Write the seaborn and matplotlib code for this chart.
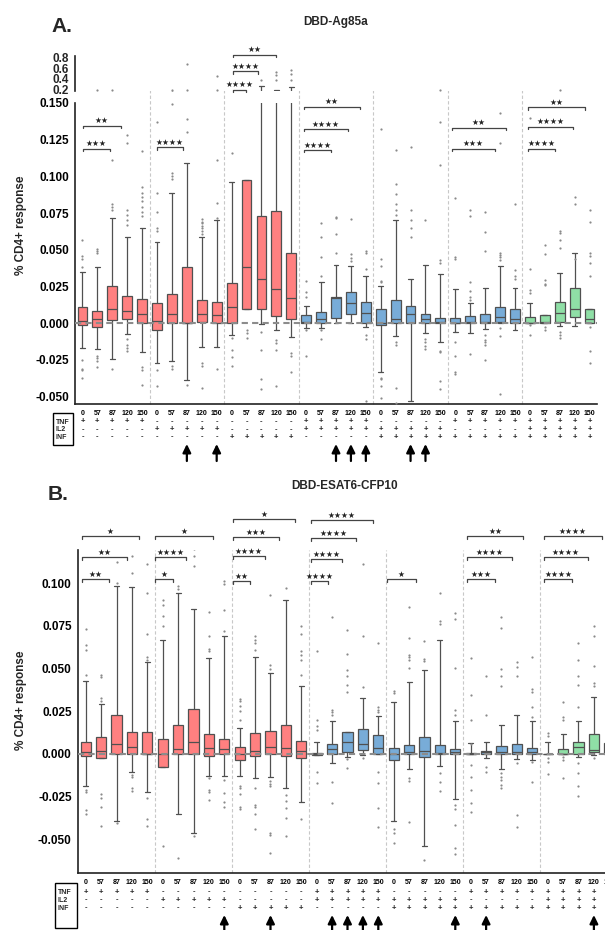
import numpy as np
import pandas as pd
import matplotlib
matplotlib.use("Agg")
import matplotlib.pyplot as plt
import seaborn as sns
from matplotlib.transforms import blended_transform_factory
from matplotlib.patches import Rectangle

# ---------------- data ----------------
doses = ["0", "57", "87", "120", "150"]
tnf_flag = [1, 0, 0, 1, 0, 1, 1]
il2_flag = [0, 1, 0, 1, 1, 0, 1]
inf_flag = [0, 0, 1, 0, 1, 1, 1]
group_colors = ["#FF8080", "#FF8080", "#FF8080", "#78ACD8", "#78ACD8", "#78ACD8", "#8FDFA6"]

# Panel A (DBD-Ag85a): whisker low, Q1, median, Q3, whisker high
a_wlo = [-0.017, -0.0175, -0.0245, -0.0075, -0.0198,
         -0.027, -0.026, -0.0386, -0.016, -0.0164,
         -0.008, 0.010, -0.0007, -0.0045, -0.0095,
         -0.003, -0.0034, 0.0, 0.0005, -0.0023,
         -0.033, -0.009, -0.053, -0.0068, -0.013,
         -0.0057, -0.0064, -0.004, 0.0, -0.0045,
         0.0, 0.0, -0.0018, -0.0016, 0.0]
a_q1 = [-0.0011, -0.0023, 0.002, 0.0027, 0.0,
        -0.0045, 0.0, 0.0, 0.0007, 0.0,
        0.0005, 0.010, 0.010, 0.005, 0.0027,
        0.0, 0.0, 0.0039, 0.006, 0.0005,
        -0.0011, 0.0, 0.0, 0.0005, 0.0,
        0.0, 0.0, 0.0, 0.0007, 0.0,
        0.0, 0.0, 0.0011, 0.004, 0.0]
a_med = [0.0014, 0.0027, 0.0095, 0.008, 0.0064,
         0.0016, 0.0064, 0.0, 0.006, 0.0057,
         0.0114, 0.038, 0.030, 0.0234, 0.017,
         0.0007, 0.0027, 0.0175, 0.0136, 0.0068,
         0.0, 0.0027, 0.0064, 0.003, 0.0007,
         0.0, 0.0007, 0.0007, 0.004, 0.003,
         0.0, 0.0007, 0.0068, 0.0095, 0.003]
a_q3 = [0.0109, 0.0084, 0.0257, 0.0184, 0.0168,
        0.0141, 0.0198, 0.0384, 0.0157, 0.0145,
        0.0273, 0.0977, 0.073, 0.0766, 0.0475,
        0.0057, 0.0075, 0.018, 0.021, 0.0143,
        0.0095, 0.0157, 0.012, 0.0066, 0.0036,
        0.0036, 0.005, 0.0061, 0.011, 0.0095,
        0.0045, 0.0057, 0.0145, 0.024, 0.0095]
a_whi = [0.035, 0.038, 0.0718, 0.059, 0.065,
         0.055, 0.089, 0.109, 0.059, 0.070,
         0.096, 0.0977, 0.26, 0.20, 0.24,
         0.012, 0.028, 0.040, 0.039, 0.032,
         0.0257, 0.070, 0.030, 0.040, 0.0336,
         0.023, 0.0136, 0.024, 0.039, 0.024,
         0.0136, 0.0057, 0.0345, 0.048, 0.0095]
a_out = [
    [0.057, 0.0455, 0.044, 0.038, -0.025, -0.031, -0.032, -0.0375],
    [0.0505, 0.049, 0.048, -0.022, -0.024, -0.026, -0.0295, 0.2],
    [0.081, 0.079, 0.077, -0.031, 0.2, 0.111],
    [0.077, 0.074, 0.070, 0.067, -0.011, -0.015, -0.017, -0.019, 0.128, 0.123],
    [0.093, 0.089, 0.086, 0.083, 0.079, 0.076, 0.073, -0.030, -0.032, -0.042, 0.117],
    [0.089, 0.076, 0.065, 0.063, -0.032, -0.043, 0.137],
    [0.102, 0.100, 0.098, -0.029, -0.031, 0.2, 0.149],
    [-0.042, 0.67, 0.2, 0.139, 0.130],
    [0.071, 0.069, 0.068, 0.066, 0.065, 0.063, 0.061, -0.027, -0.029, -0.044],
    [0.082, 0.0716, -0.031, 0.46, 0.2, 0.111],
    [0.116, -0.010, -0.018, -0.023, -0.029],
    [-0.0045, -0.0064, -0.010],
    [-0.006, -0.018, -0.038, -0.045, 0.37],
    [-0.0115, -0.0135, -0.018, -0.043, 0.52, 0.47, 0.37],
    [-0.020, -0.022, -0.033, 0.57, 0.49, 0.37],
    [0.029, 0.0216, 0.018, -0.0045, -0.022],
    [0.032, 0.045, 0.059, 0.068, -0.0045, -0.011],
    [0.048, 0.061, 0.0715, 0.0725],
    [0.071, 0.047, 0.0445, 0.0425],
    [0.049, 0.048, 0.037, -0.008, -0.011, -0.053],
    [0.044, 0.039, 0.029, 0.028, -0.037, -0.038, -0.043, -0.051, 0.132],
    [0.095, 0.088, 0.081, 0.077, 0.074, -0.0125, -0.0148, -0.044, -0.054, 0.118],
    [0.077, 0.070, 0.065, 0.059, 0.120],
    [0.070, -0.011, -0.0125, -0.0155, -0.0175],
    [0.043, 0.041, -0.019, -0.0198, -0.039, -0.045, 0.2, 0.137, 0.108],
    [0.085, 0.045, 0.044, -0.0125, -0.022, -0.033, -0.0345],
    [0.077, 0.073, 0.028, 0.022, 0.018, 0.016, -0.021],
    [0.076, 0.062, 0.049, -0.008, -0.0114, -0.013, -0.0148, -0.025],
    [0.048, 0.0465, 0.045, 0.043, -0.0034, -0.0086, -0.048, 0.143, 0.123],
    [0.081, 0.036, 0.032, 0.030],
    [0.037, 0.0227, 0.0205, -0.0011, -0.008, 0.140],
    [0.053, 0.047, 0.0295, 0.027, 0.0261, -0.0023, -0.0045],
    [0.063, 0.0615, 0.057, 0.051, -0.0057, -0.008, -0.010, 0.2],
    [0.086, 0.081, 0.044],
    [0.077, 0.069, 0.048, 0.046, 0.041, 0.032, -0.0023, -0.019, -0.027],
]

# Panel B (DBD-ESAT6-CFP10)
b_wlo = [-0.019, -0.0023, -0.0395, -0.0105, -0.022,
         -0.0076, -0.035, -0.046, -0.0127, -0.013,
         -0.013, -0.014, -0.0135, -0.020, -0.028,
         -0.0006, -0.0051, -0.0016, -0.0006, 0.0,
         -0.039, -0.009, -0.054, -0.007, -0.0266,
         0.0, -0.0025, -0.009, -0.003, -0.0035,
         0.0, 0.0, -0.0016, -0.0006, 0.0]
b_q1 = [-0.001, -0.0023, 0.0, 0.0, 0.0,
        -0.0076, 0.0, 0.0, -0.0014, 0.0,
        -0.0033, -0.0014, 0.0, -0.0014, -0.0023,
        -0.0006, 0.0, 0.0014, 0.0023, 0.0,
        -0.0035, 0.0, -0.0016, 0.0, 0.0,
        0.0, 0.0, 0.0, 0.0, 0.0,
        0.0, 0.0, 0.0, 0.0014, 0.0]
b_med = [0.001, 0.002, 0.0059, 0.0041, 0.0,
         0.0, 0.003, 0.0068, 0.0035, 0.003,
         0.0, 0.002, 0.0041, 0.0035, 0.002,
         0.0, 0.0027, 0.0068, 0.006, 0.0037,
         0.0, 0.001, 0.0016, 0.0008, 0.0014,
         0.0, 0.001, 0.001, 0.001, 0.0014,
         0.0, 0.0, 0.0039, 0.0025, 0.003]
b_q3 = [0.007, 0.0098, 0.0227, 0.0127, 0.0127,
        0.0088, 0.017, 0.0264, 0.0119, 0.0088,
        0.0041, 0.0123, 0.0133, 0.0172, 0.0076,
        0.0008, 0.0059, 0.0131, 0.0146, 0.0109,
        0.0037, 0.0053, 0.0102, 0.0053, 0.0027,
        0.0004, 0.0018, 0.0047, 0.0059, 0.0037,
        0.0, 0.0027, 0.0072, 0.0117, 0.0066]
b_whi = [0.0426, 0.029, 0.0986, 0.098, 0.054,
         0.0666, 0.094, 0.085, 0.056, 0.069,
         0.0152, 0.057, 0.0475, 0.090, 0.0395,
         0.0072, 0.0195, 0.0131, 0.0326, 0.0225,
         0.0307, 0.0424, 0.049, 0.067, 0.0195,
         0.0066, 0.0068, 0.017, 0.023, 0.0195,
         0.0072, 0.0117, 0.0195, 0.0336, 0.0254]
b_out = [
    [0.046, 0.061, 0.064, 0.073, -0.021, -0.022, -0.033, -0.035],
    [0.046, 0.045, 0.033, 0.031, -0.0233, -0.0258, -0.031, -0.042],
    [0.100, -0.0405, 0.1123],
    [0.106, -0.0125, -0.0135, -0.0199, -0.0219, 0.116],
    [0.094, 0.070, 0.057, 0.055, -0.026, -0.038, -0.042, 0.111],
    [0.090, 0.087, 0.081, 0.075, -0.054],
    [0.0986, 0.0967, -0.061],
    [-0.048, 0.120, 0.116, 0.110],
    [0.083, 0.069, 0.0615, 0.0605, -0.014, -0.0213, -0.0225, -0.027],
    [0.101, 0.0996, 0.084, 0.072, -0.015, -0.0229, -0.0283, -0.031],
    [0.032, 0.0309, 0.028, 0.025, 0.0197, -0.0186, -0.0199, -0.0232, -0.0312, -0.0322],
    [0.069, 0.067, 0.065, 0.061, -0.0199, -0.0297, -0.031, -0.035, -0.044],
    [0.052, 0.0498, 0.093, -0.016, -0.0176, -0.0189, -0.0463, -0.0473, -0.058],
    [0.097, -0.0238, -0.0277, -0.0316, -0.0375, -0.0482],
    [0.075, 0.070, 0.060, 0.058, 0.055, 0.046, -0.038],
    [0.020, 0.0164, 0.014, 0.060, -0.0104, -0.017],
    [0.0258, 0.0248, 0.0229, 0.080, -0.0162, -0.029],
    [0.0365, 0.0404, 0.0457, 0.049, 0.0586, 0.0727, -0.0031, -0.0084],
    [0.039, 0.0688, -0.0025, 0.111],
    [0.0277, 0.0258, 0.0248, 0.065, -0.0104, -0.017, -0.0314, -0.0426],
    [0.0367, 0.0357, -0.0441, -0.0465, -0.0523],
    [0.086, 0.068, 0.0578, 0.0565, 0.055, 0.0506, -0.0143, -0.0156, -0.0396],
    [0.066, 0.0555, 0.0547, -0.062],
    [0.0945, 0.0779, 0.076, -0.011, -0.0162, -0.0215],
    [0.0828, 0.0789, 0.0506, 0.0258, 0.0229, -0.0299, -0.0324, -0.0416, -0.055, -0.0586],
    [0.056, 0.0346, 0.0199, 0.0059, -0.0064, -0.0133, -0.021, -0.0285, -0.034],
    [0.0457, 0.0229, -0.0074, -0.0104],
    [0.080, 0.0736, 0.0498, 0.0457, 0.0395, -0.0113, -0.0133, -0.0152, -0.0182, -0.0201],
    [0.0539, 0.051, 0.0457, -0.0055, -0.0357, -0.043],
    [0.0566, 0.0383, 0.0365, 0.0277, 0.0219, -0.0045, -0.0162],
    [0.0121, 0.0107, -0.0025, -0.0045, -0.012],
    [0.0307, 0.0219, 0.0199, -0.0016, -0.0035, -0.0143],
    [0.065, 0.055, 0.0457, 0.0404, 0.0277, -0.0055, -0.0113, -0.019, -0.0246],
    [0.075, 0.0688, 0.0516, 0.0418, 0.0395, -0.0025],
    [0.061, -0.019, -0.0266],
]

# significance brackets: (from box, to box, height, label)
a_brackets_low = [(0.04, 1.84, 0.1188, "***"), (0.04, 2.58, 0.1344, "**"),
                  (4.99, 6.73, 0.120, "****"),
                  (14.84, 16.65, 0.118, "****"), (14.84, 17.8, 0.1323, "****"), (14.84, 18.6, 0.1473, "**"),
                  (24.75, 27.63, 0.1188, "***"), (24.75, 28.4, 0.133, "**"),
                  (29.9, 31.7, 0.119, "****"), (29.9, 32.86, 0.1337, "****"), (29.9, 33.7, 0.147, "**")]
a_brackets_top = [(10.08, 10.95, 0.20, "****"), (10.08, 11.76, 0.54, "****"), (10.08, 12.96, 0.856, "**")]
b_brackets = [(-0.24, 3.46, 0.1275, "*"), (-0.24, 2.68, 0.1152, "**"), (-0.24, 1.51, 0.1023, "**"),
              (4.5, 8.27, 0.1275, "*"), (4.5, 6.51, 0.1152, "****"), (4.5, 5.67, 0.1023, "*"),
              (9.56, 13.6, 0.1375, "*"), (9.56, 12.55, 0.127, "***"), (9.56, 11.64, 0.1158, "****"), (9.56, 10.7, 0.1012, "**"),
              (14.63, 18.65, 0.1369, "****"), (14.63, 17.55, 0.1263, "****"), (14.63, 16.64, 0.114, "****"), (14.63, 15.73, 0.1012, "****"),
              (19.56, 21.45, 0.1023, "*"),
              (24.76, 28.4, 0.1275, "**"), (24.76, 27.68, 0.1152, "****"), (24.76, 26.58, 0.1023, "***"),
              (29.76, 33.5, 0.1275, "****"), (29.76, 32.6, 0.1152, "****"), (29.76, 31.58, 0.1023, "****")]
a_arrows = [7, 9, 17, 18, 19, 22, 23]
b_arrows = [9, 12, 16, 17, 18, 19, 24, 26, 33]

# ---------------- style ----------------
sns.set_style("white")
plt.rcParams['font.family'] = ['Liberation Sans', 'DejaVu Sans']
plt.rcParams['font.weight'] = 'bold'

W, H = 605, 930
def fx(px):
    return px / W
def fy(py):
    return 1 - py / H

keys = [f"g{g}-{d}" for g in range(7) for d in doses]
palette = {k: group_colors[i // 5] for i, k in enumerate(keys)}


def make_frames(wlo, q1, med, q3, whi, outl):
    vals = np.column_stack([wlo, q1, med, q3, whi]).ravel()
    box_df = pd.DataFrame({"box": np.repeat(keys, 5), "value": vals})
    ob, ov = [], []
    for k, lst in zip(keys, outl):
        ob += [k] * len(lst)
        ov += list(lst)
    out_df = pd.DataFrame({"box": ob, "value": ov})
    return box_df, out_df


def draw_boxes(ax, box_df, out_df):
    sns.boxplot(data=box_df, x="box", y="value", hue="box", order=keys, hue_order=keys,
                palette=palette, legend=False, whis=(0, 100), showfliers=False,
                width=0.66, linecolor="#505050", linewidth=0.9, saturation=1, ax=ax)
    sns.stripplot(data=out_df, x="box", y="value", order=keys, jitter=False,
                  size=1.6, color="#8a8a8a", ax=ax, zorder=3)
    ax.set_xlim(-0.5, 34.5)
    ax.set_xlabel("")
    ax.set_ylabel("")


def bracket(ax, x0, x1, y, label):
    y0, y1 = ax.get_ylim()
    hpx = ax.get_position().height * H
    d = 2.5 / hpx * (y1 - y0)
    ax.plot([x0, x0, x1, x1], [y - d, y, y, y - d], color="#444444", lw=0.9, clip_on=False, zorder=5)
    ax.annotate(label.replace("*", "\u2605"), xy=((x0 + x1) / 2, y), xytext=(0, 1.8),
                textcoords="offset points", ha="center", va="baseline", fontsize=5.6,
                family=["DejaVu Sans"], annotation_clip=False, color="#222222")


def style_lower(ax, yticks, ylim):
    ax.set_ylim(*ylim)
    ax.set_yticks(yticks)
    ax.set_yticklabels([f"{v:.3f}" for v in yticks], fontsize=8.5, fontweight="bold")
    ax.set_xticks(range(35))
    ax.set_xticklabels(doses * 7, fontsize=5, fontweight="bold")
    ax.tick_params(axis="x", length=2.5, width=0.8, pad=1.5, colors="black")
    ax.tick_params(axis="y", length=3, width=1, pad=1.5, colors="black")
    for s in ["top", "right"]:
        ax.spines[s].set_visible(False)
    for s in ["left", "bottom"]:
        ax.spines[s].set_color("#222222")
        ax.spines[s].set_linewidth(1.2)
    ax.axhline(0, color="#8c8c8c", ls=(0, (3, 2)), lw=1.5, zorder=4)


def table(ax, y_tick_rows, box_rect):
    tr = blended_transform_factory(ax.transData, ax.figure.transFigure)
    flags = [tnf_flag, il2_flag, inf_flag]
    for i in range(35):
        g = i // 5
        for r in range(3):
            s = "+" if flags[r][g] else "-"
            ax.figure.text(i, fy(y_tick_rows[r]), s, transform=tr, ha="center", va="center",
                           fontsize=5.5, fontweight="bold")
    x0, y0, x1, y1 = box_rect
    ax.figure.add_artist(Rectangle((fx(x0), fy(y1)), fx(x1) - fx(x0), (y1 - y0) / H, fill=False,
                                   lw=1.0, ec="black", transform=ax.figure.transFigure))
    for r, lab in enumerate(["TNF", "IL2", "INF"]):
        ax.figure.text(fx(x0 + 3), fy(y_tick_rows[r]), lab, ha="left", va="center",
                       fontsize=5, fontweight="bold")


def arrows(ax, idx, y_head, y_tail):
    tr = blended_transform_factory(ax.transData, ax.figure.transFigure)
    for i in idx:
        ax.annotate("", xy=(i, fy(y_head)), xycoords=tr, xytext=(i, fy(y_tail)), textcoords=tr,
                    arrowprops=dict(arrowstyle="-|>,head_length=0.45,head_width=0.22", color="black",
                                    lw=1.6, mutation_scale=11, shrinkA=0, shrinkB=0),
                    annotation_clip=False)


fig = plt.figure(figsize=(W / 100, H / 100), dpi=100)

# ---------------- Panel A ----------------
axA = fig.add_axes([fx(75), fy(404), (597 - 75) / W, (404 - 103) / H])
axAt = fig.add_axes([fx(75), fy(91), (597 - 75) / W, (91 - 56) / H])
boxA, outA = make_frames(a_wlo, a_q1, a_med, a_q3, a_whi, a_out)
for ax in (axA, axAt):
    draw_boxes(ax, boxA, outA)
style_lower(axA, [-0.05, -0.025, 0, 0.025, 0.05, 0.075, 0.1, 0.125, 0.15], (-0.055, 0.15))
axAt.set_ylim(0.172, 0.828)
axAt.set_yticks([0.2, 0.4, 0.6, 0.8])
axAt.set_yticklabels(["0.2", "0.4", "0.6", "0.8"], fontsize=8.5, fontweight="bold")
axAt.tick_params(axis="y", length=3, width=1, pad=1.5)
axAt.set_xticks([])
for s in ["top", "right", "bottom"]:
    axAt.spines[s].set_visible(False)
axAt.spines["left"].set_color("#222222")
axAt.spines["left"].set_linewidth(1.2)
for xs in np.arange(4.5, 34, 5):
    axA.axvline(xs, ymin=0, ymax=(404 - 57) / (404 - 103), color="#c8c8c8", ls=(0, (3, 2)),
                lw=0.8, zorder=0, clip_on=False)
for b in a_brackets_low:
    bracket(axA, *b)
for b in a_brackets_top:
    bracket(axAt, *b)
table(axA, [422, 429.5, 437], (53, 413, 73, 445))
arrows(axA, a_arrows, 444, 461)
fig.text(fx(51), fy(27), "A.", fontsize=15, fontweight="bold", ha="left", va="center")
fig.text(fx(303), fy(22), "DBD-Ag85a", fontsize=8.5, fontweight="bold", ha="left", va="center")
fig.text(fx(21), fy(225), "% CD4+ response", rotation=90, fontsize=8.5, fontweight="bold",
         ha="center", va="center")

# ---------------- Panel B ----------------
axB = fig.add_axes([fx(78), fy(873), (617 - 78) / W, (873 - 550) / H])
boxB, outB = make_frames(b_wlo, b_q1, b_med, b_q3, b_whi, b_out)
draw_boxes(axB, boxB, outB)
style_lower(axB, [-0.05, -0.025, 0, 0.025, 0.05, 0.075, 0.1], (-0.0697, 0.1194))
for xs in np.arange(4.5, 34, 5):
    axB.axvline(xs, color="#c8c8c8", ls=(0, (3, 2)), lw=0.8, zorder=0)
for b in b_brackets:
    bracket(axB, *b)
table(axB, [892, 900, 908], (55, 883, 77, 928))
arrows(axB, b_arrows, 915, 935)
fig.text(fx(48), fy(494), "B.", fontsize=15, fontweight="bold", ha="left", va="center")
fig.text(fx(345), fy(486), "DBD-ESAT6-CFP10", fontsize=8.5, fontweight="bold", ha="center", va="center")
fig.text(fx(21), fy(700), "% CD4+ response", rotation=90, fontsize=8.5, fontweight="bold",
         ha="center", va="center")

fig.savefig("out.png", dpi=100)
